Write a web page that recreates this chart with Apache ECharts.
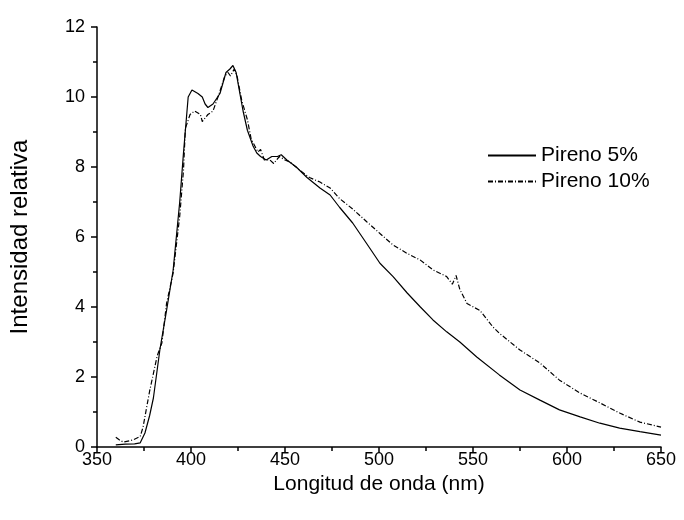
<!DOCTYPE html>
<html>
<head>
<meta charset="utf-8">
<script src="https://cdn.jsdelivr.net/npm/echarts@6/dist/echarts.min.js"></script>
<style>html,body{margin:0;padding:0;background:#fff}#c{width:684px;height:520px}</style>
</head>
<body>
<div id="c"></div>
<script>
const seriesNames = ["Pireno 5%", "Pireno 10%"];
const wl5 = [360,365,370,373,375.5,378,380,383.5,387,390.5,394,396,398.5,400.5,403.7,406,407.5,409,411.7,415.4,417,418.6,420.7,422.3,424,426,427.7,430,433,435,437,440,443,446,448,451,456,461.7,468.6,474,479,486,493.6,500.5,507.5,515,522,528.7,536,543,552,564,575,585.6,596,607,617.5,628,638.8,650];
const int5 = [0.06,0.08,0.09,0.12,0.4,0.9,1.4,2.8,3.9,5.05,7.0,8.4,10.0,10.2,10.1,10.0,9.8,9.7,9.8,10.1,10.4,10.7,10.8,10.9,10.7,10.1,9.6,9.05,8.6,8.4,8.3,8.2,8.3,8.3,8.35,8.2,8.0,7.7,7.4,7.2,6.85,6.4,5.8,5.25,4.87,4.4,4.0,3.63,3.29,3.0,2.57,2.06,1.63,1.34,1.06,0.86,0.68,0.54,0.44,0.34];
const wl10 = [360,362,364,369,373,374.5,378,382,384.5,387,390.5,394,396,397,399.5,402,405,406,409,411.7,415,418,419.7,421,423,424.5,427,430,432,435.6,437,439,442,444,447,450,452.7,458,463,468.6,474,479,486,493.6,500.5,507.5,515,522,528.7,536,539,541,543,546.8,553.7,560.6,564,575,585.6,596,607,617.5,628,638.8,650];
const int10 = [0.28,0.2,0.14,0.2,0.3,0.57,1.6,2.6,2.97,4.1,4.97,6.6,7.9,9.1,9.5,9.6,9.5,9.3,9.5,9.6,10.1,10.6,10.7,10.6,10.8,10.6,9.9,9.35,8.8,8.43,8.5,8.2,8.2,8.1,8.3,8.2,8.14,7.9,7.7,7.57,7.4,7.1,6.8,6.43,6.1,5.77,5.53,5.34,5.06,4.87,4.65,4.9,4.5,4.1,3.9,3.43,3.25,2.77,2.4,1.91,1.54,1.26,0.97,0.71,0.57];
const xTicks = [350,400,450,500,550,600,650];
const yTicks = [0,2,4,6,8,10,12];

const pairs = (xs, ys) => xs.map((x, i) => [x, ys[i]]);
const font = 'Liberation Sans, Arial, sans-serif';
const chart = echarts.init(document.getElementById('c'), null, {renderer: 'canvas'});
const axisCommon = {
  axisLine: {show: true, lineStyle: {color: '#000', width: 1.5}},
  axisTick: {show: true, inside: false, length: 6, lineStyle: {color: '#000', width: 1.5}},
  minorTick: {show: true, splitNumber: 2, length: 4, lineStyle: {color: '#000', width: 1.5}},
  splitLine: {show: false},
  nameLocation: 'middle'
};
chart.setOption({
  animation: false,
  backgroundColor: '#fff',
  grid: {left: 97, right: 23, top: 27, bottom: 73, containLabel: false},
  legend: {
    data: seriesNames,
    orient: 'vertical',
    left: 482, top: 140,
    itemWidth: 48, itemHeight: 14, itemGap: 5,
    itemStyle: {opacity: 0},
    textStyle: {color: '#000', fontSize: 21, fontFamily: font}
  },
  xAxis: Object.assign({}, axisCommon, {
    type: 'value', min: xTicks[0], max: xTicks[xTicks.length-1], interval: 50,
    name: 'Longitud de onda (nm)', nameGap: 20,
    nameTextStyle: {color: '#000', fontSize: 21, fontFamily: font},
    axisLabel: {color: '#000', fontSize: 18, fontFamily: font, margin: 4}
  }),
  yAxis: Object.assign({}, axisCommon, {
    type: 'value', min: yTicks[0], max: yTicks[yTicks.length-1], interval: 2,
    name: 'Intensidad relativa', nameGap: 65,
    nameTextStyle: {color: '#000', fontSize: 24, fontFamily: font},
    axisLabel: {color: '#000', fontSize: 18, fontFamily: font, margin: 12}
  }),
  series: [
    {name: seriesNames[0], type: 'line', data: pairs(wl5, int5), showSymbol: false, symbol: 'none',
     lineStyle: {color: '#000', width: 1.2}, itemStyle: {color: '#000'}},
    {name: seriesNames[1], type: 'line', data: pairs(wl10, int10), showSymbol: false, symbol: 'none',
     lineStyle: {color: '#000', width: 1.2, type: [5, 2, 1, 2]}, itemStyle: {color: '#000'}}
  ]
});
</script>
</body>
</html>
